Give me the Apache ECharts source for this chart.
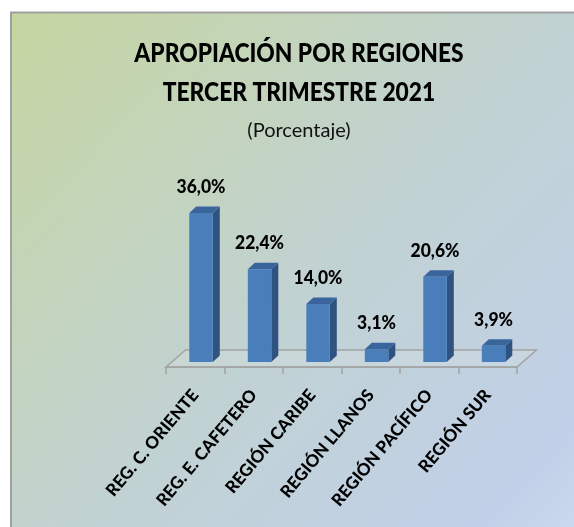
<!DOCTYPE html>
<html><head><meta charset="utf-8">
<style>html,body{margin:0;padding:0;background:#fff}#c{width:574px;height:527px}</style>
<script src="https://cdn.jsdelivr.net/npm/echarts@6/dist/echarts.min.js"></script>
</head><body><div id="c"></div>
<script>
const categories = ['REG. C. ORIENTE','REG. E. CAFETERO','REGIÓN CARIBE','REGIÓN LLANOS','REGIÓN PACÍFICO','REGIÓN SUR'];
const values = [36.0,22.4,14.0,3.1,20.6,3.9];
const titleLines = ['APROPIACIÓN POR REGIONES','TERCER TRIMESTRE 2021'];
const subtitle = '(Porcentaje)';
const FONT = 'Lato';
const chart = echarts.init(document.getElementById('c'),null,{renderer:'canvas'});
function renderBar(params, api){
  const i = api.value(0), v = api.value(1);
  const b = api.coord([i,0]), t = api.coord([i,v]);
  const w = 23.5, dx = 7, dy = 6.5, ox = 5.8, oy = -5;
  const x0 = b[0]+ox-w/2, x1 = x0+w, yb = b[1]+oy, yt = t[1]+oy;
  return {type:'group',children:[
    {type:'polygon',shape:{points:[[x1,yb],[x1+dx,yb-dy],[x1+dx,yt-dy],[x1,yt]]},style:{fill:'#2f5380'}},
    {type:'polygon',shape:{points:[[x0,yt],[x1,yt],[x1+dx,yt-dy],[x0+dx,yt-dy]]},style:{fill:'#3a659c'}},
    {type:'rect',shape:{x:x0,y:yt,width:w,height:yb-yt},style:{fill:'#4a7ebb'}},
    {type:'text',x:(x0+x1)/2,y:yt-26,scaleX:0.92,style:{text:v.toFixed(1).replace('.',',')+'%',fill:'#000',
      font:'900 19px '+FONT,align:'center',verticalAlign:'middle'}}
  ]};
}
function renderFloor(params, api){
  const c = params.coordSys, x=c.x, y=c.y+c.height, r=x+c.width, dx=19.5, dy=17;
  return {type:'polygon',shape:{points:[[x,y],[x+dx,y-dy],[r+dx,y-dy],[r,y]]},
    style:{fill:'rgba(225,232,228,0.25)',stroke:'#a3a3a3',lineWidth:1.5}};
}
chart.setOption({
  animation:false,
  backgroundColor:'#fff',
  graphic:[
    {type:'rect',z:-10,shape:{x:11,y:12.5,width:590,height:560},
     style:{stroke:'#a0a0a0',lineWidth:2,
       fill:new echarts.graphic.LinearGradient(0,0,1,1,[
         {offset:0,color:'#c6d6a0'},{offset:0.5,color:'#c1d2d3'},{offset:0.85,color:'#c1d0e8'},{offset:1,color:'#d2def2'}])}},
    {type:'text',x:299,y:54,scaleX:0.877,z:5,style:{text:titleLines[0],font:'900 26px '+FONT,fill:'#000',align:'center',verticalAlign:'middle'}},
    {type:'text',x:299,y:93,scaleX:0.877,z:5,style:{text:titleLines[1],font:'900 26px '+FONT,fill:'#000',align:'center',verticalAlign:'middle'}},
    {type:'text',x:299,y:131,z:5,style:{text:subtitle,font:'20px '+FONT,fill:'#111',align:'center',verticalAlign:'middle'}}
  ],
  grid:{left:166,width:351,top:201.4,height:165.6},
  xAxis:{type:'category',data:categories,
    axisLine:{lineStyle:{color:'#a3a3a3',width:1.5}},
    axisTick:{show:true,alignWithLabel:false,length:7,lineStyle:{color:'#a3a3a3',width:1.5}},
    axisLabel:{rotate:50,interval:0,margin:25,fontFamily:FONT,fontWeight:900,fontSize:17,color:'#000'}},
  yAxis:{type:'value',min:0,max:40,show:false,splitLine:{show:false}},
  series:[
    {type:'custom',renderItem:renderFloor,data:[[0,0]],z:1,silent:true,clip:false},
    {type:'custom',renderItem:renderBar,data:values.map((v,i)=>[i,v]),z:2,clip:false,encode:{x:0,y:1}}
  ]
});
</script></body></html>
